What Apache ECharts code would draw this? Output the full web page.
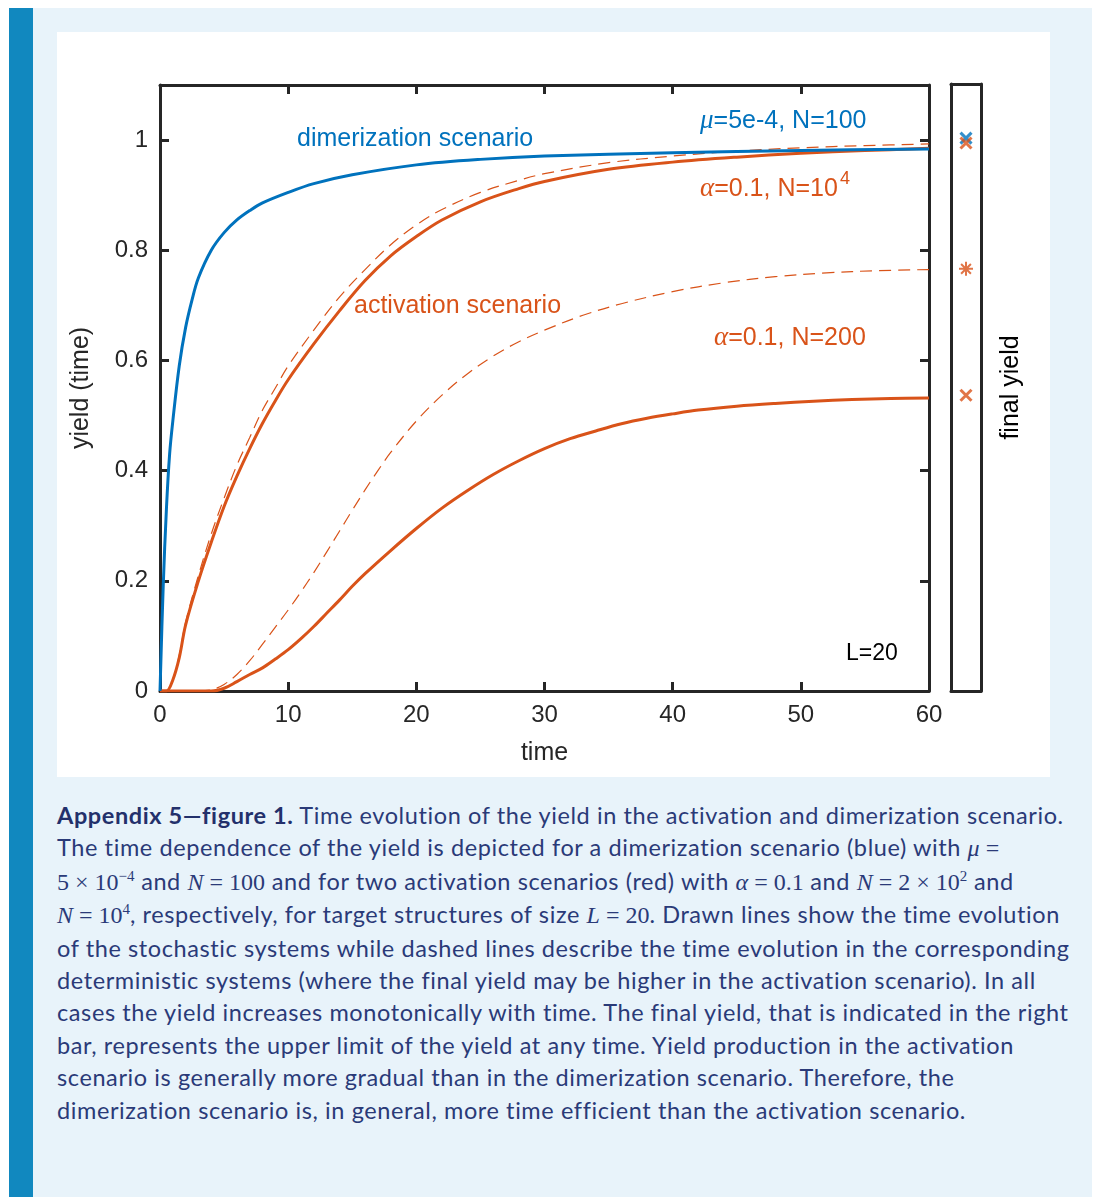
<!DOCTYPE html>
<html><head><meta charset="utf-8">
<script src="https://cdn.jsdelivr.net/npm/echarts@6/dist/echarts.min.js"></script>
<style>
html,body{margin:0;padding:0;background:#fff;width:1097px;height:1197px;overflow:hidden}
#panel{position:absolute;left:9px;top:8px;width:1083px;height:1189px;background:#e8f3fa}
#bar{position:absolute;left:9px;top:8px;width:24px;height:1189px;background:#1188bf}
#chart{position:absolute;left:57px;top:32px;width:993px;height:745px;background:#fff}
#cap{position:absolute;left:57px;top:799px;font-family:Lato,'Noto Sans',sans-serif;font-size:23.5px;letter-spacing:0.6px;line-height:32.4px;color:#2a3a78;white-space:nowrap}
#cap b{color:#23306b}
.m{font-family:'Liberation Serif',serif;font-size:24px;letter-spacing:0}
.i{font-style:italic}
sup{font-size:15px;line-height:0;vertical-align:9px}
</style></head><body>
<div id="panel"></div><div id="bar"></div>
<div id="chart"></div>
<div id="cap">
<b>Appendix 5—figure 1.</b> Time evolution of the yield in the activation and dimerization scenario.<br>
The time dependence of the yield is depicted for a dimerization scenario (blue) with <span class="m"><span class="i">μ</span> =</span><br>
<span class="m">5 × 10<sup>−4</sup></span> and <span class="m"><span class="i">N</span> = 100</span> and for two activation scenarios (red) with <span class="m"><span class="i">α</span> = 0.1</span> and <span class="m"><span class="i">N</span> = 2 × 10<sup>2</sup></span> and<br>
<span class="m"><span class="i">N</span> = 10<sup>4</sup></span>, respectively, for target structures of size <span class="m"><span class="i">L</span> = 20</span>. Drawn lines show the time evolution<br>
of the stochastic systems while dashed lines describe the time evolution in the corresponding<br>
deterministic systems (where the final yield may be higher in the activation scenario). In all<br>
cases the yield increases monotonically with time. The final yield, that is indicated in the right<br>
bar, represents the upper limit of the yield at any time. Yield production in the activation<br>
scenario is generally more gradual than in the dimerization scenario. Therefore, the<br>
dimerization scenario is, in general, more time efficient than the activation scenario.
</div>
<script>
// ---- data ----
const xTicks = [0, 10, 20, 30, 40, 50, 60];
const yTicks = [0, 0.2, 0.4, 0.6, 0.8, 1];

const timeBlue  = [0,0.25,0.5,0.75,1,1.5,2,2.5,3,4,5,6,7,8,10,12,15,20,25,30,40,50,60];
const yieldBlue = [0,0.19,0.33,0.43,0.49,0.59,0.66,0.71,0.75,0.80,0.832,0.855,0.872,0.886,0.905,0.921,0.937,0.955,0.965,0.971,0.977,0.981,0.984];

const timeAct1e4Stoch  = [0,0.5,1,1.5,2,3,4,5,6,7,8,9,10,12,14,16,18,20,22,25,28,30,35,40,45,50,55,60];
const yieldAct1e4Stoch = [0,0,0.02,0.06,0.12,0.20,0.27,0.335,0.39,0.44,0.486,0.527,0.565,0.63,0.69,0.745,0.79,0.825,0.855,0.888,0.912,0.925,0.947,0.96,0.969,0.976,0.981,0.985];
const timeAct1e4Det    = [0,0.5,1,1.5,2,3,4,5,6,7,8,9,10,12,14,16,18,20,22,25,28,30,35,40,45,50,55,60];
const yieldAct1e4Det   = [0,0,0.02,0.065,0.125,0.21,0.285,0.35,0.41,0.46,0.51,0.55,0.59,0.655,0.715,0.765,0.81,0.846,0.874,0.905,0.927,0.939,0.959,0.971,0.98,0.986,0.99,0.993];

const timeAct200Stoch  = [0,2,3,4,5,6,7,8,9,10,11,12,13,14,15,16,18,20,22,24,26,28,30,32,34,36,38,40,42,45,48,51,54,57,60];
const yieldAct200Stoch = [0,0,0,0,0.005,0.017,0.03,0.042,0.058,0.075,0.095,0.117,0.141,0.165,0.19,0.213,0.255,0.295,0.332,0.364,0.393,0.418,0.44,0.458,0.472,0.485,0.495,0.503,0.51,0.517,0.522,0.526,0.529,0.531,0.532];

const timeAct200Det  = [0,2,3,4,5,6,7,8,9,10,11,12,13,14,15,16,17,18,20,22,24,26,28,30,33,36,40,44,48,52,56,60];
const yieldAct200Det = [0,0,0,0.002,0.012,0.03,0.055,0.085,0.116,0.147,0.18,0.215,0.252,0.29,0.328,0.365,0.4,0.433,0.49,0.537,0.576,0.608,0.634,0.655,0.682,0.703,0.725,0.741,0.752,0.759,0.763,0.765];

// final yield bar markers
const finalBlueCross = [1.002];
const finalRedCross  = [0.993, 0.536];
const finalRedStar   = [0.765];

// ---- styles ----
const BLUE = '#0072BD', RED = '#D95319', AX = '#262626';
const SANS = '"Liberation Sans", Arial, sans-serif';
const pairs = (t, v) => t.map((x, i) => [x, v[i]]);
const CROSS = 'path://M0,0L10,10M10,0L0,10';
const STAR  = 'path://M5,0L5,10M0,5L10,5M1.5,1.5L8.5,8.5M8.5,1.5L1.5,8.5';

const axLine = {show:true, onZero:false, lineStyle:{color:AX, width:3}};
const tickIn = {show:true, inside:true, length:9, lineStyle:{color:AX, width:3}};
const lab = {fontSize:24, color:AX, fontFamily:SANS, margin:12};
const SM = 0.35;

const chart = echarts.init(document.getElementById('chart'), null, {renderer:'canvas'});
chart.setOption({
  animation:false,
  backgroundColor:'#fff',
  grid:[
    {left:103, top:53, width:769, height:606, outerBoundsMode:'none'},
    {left:894, top:52, width:30, height:607, outerBoundsMode:'none'}
  ],
  xAxis:[
    {gridIndex:0, type:'value', min:xTicks[0], max:xTicks[xTicks.length-1], interval:10, position:'bottom',
     axisLine:axLine, axisTick:tickIn, axisLabel:lab, splitLine:{show:false},
     name:'time', nameLocation:'middle', nameGap:50, nameTextStyle:{fontSize:25, color:AX, fontFamily:SANS}},
    {gridIndex:0, type:'value', min:0, max:60, interval:10, position:'top',
     axisLine:axLine, axisTick:tickIn, axisLabel:{show:false}, splitLine:{show:false}},
    {gridIndex:1, type:'value', min:0, max:1, position:'bottom', axisLine:axLine, axisTick:{show:false}, axisLabel:{show:false}, splitLine:{show:false}},
    {gridIndex:1, type:'value', min:0, max:1, position:'top', axisLine:axLine, axisTick:{show:false}, axisLabel:{show:false}, splitLine:{show:false}}
  ],
  yAxis:[
    {gridIndex:0, type:'value', min:yTicks[0], max:1.1, interval:0.2, position:'left',
     axisLine:axLine, axisTick:tickIn, axisLabel:Object.assign({showMaxLabel:false}, lab), splitLine:{show:false},
     name:'yield (time)', nameLocation:'middle', nameGap:66, nameRotate:90, nameTextStyle:{fontSize:25, color:AX, fontFamily:SANS}},
    {gridIndex:0, type:'value', min:0, max:1.1, interval:0.2, position:'right',
     axisLine:axLine, axisTick:tickIn, axisLabel:{show:false}, splitLine:{show:false}},
    {gridIndex:1, type:'value', min:0, max:1.1, position:'left', axisLine:axLine, axisTick:{show:false}, axisLabel:{show:false}, splitLine:{show:false}},
    {gridIndex:1, type:'value', min:0, max:1.1, position:'right', axisLine:axLine, axisTick:{show:false}, axisLabel:{show:false}, splitLine:{show:false},
     name:'final yield', nameLocation:'middle', nameGap:18, nameRotate:90, nameTextStyle:{fontSize:25, color:'#000', fontFamily:SANS}}
  ],
  series:[
    {type:'line', xAxisIndex:0, yAxisIndex:0, data:pairs(timeAct1e4Det, yieldAct1e4Det), showSymbol:false, smooth:SM,
     lineStyle:{color:RED, width:1.2, type:[12,7]}, z:2},
    {type:'line', xAxisIndex:0, yAxisIndex:0, data:pairs(timeAct200Det, yieldAct200Det), showSymbol:false, smooth:SM,
     lineStyle:{color:RED, width:1.2, type:[12,7]}, z:2},
    {type:'line', xAxisIndex:0, yAxisIndex:0, data:pairs(timeAct200Stoch, yieldAct200Stoch), showSymbol:false, smooth:SM,
     lineStyle:{color:RED, width:3}, z:3},
    {type:'line', xAxisIndex:0, yAxisIndex:0, data:pairs(timeAct1e4Stoch, yieldAct1e4Stoch), showSymbol:false, smooth:SM,
     lineStyle:{color:RED, width:3}, z:3},
    {type:'line', xAxisIndex:0, yAxisIndex:0, data:pairs(timeBlue, yieldBlue), showSymbol:false, smooth:SM,
     lineStyle:{color:BLUE, width:3}, z:4},
    {type:'scatter', xAxisIndex:2, yAxisIndex:2, data:finalBlueCross.map(v=>[0.5,v]), symbol:CROSS, symbolSize:11,
     itemStyle:{color:'transparent', borderColor:BLUE, borderWidth:3}, z:5},
    {type:'scatter', xAxisIndex:2, yAxisIndex:2, data:finalRedCross.map(v=>[0.5,v]), symbol:CROSS, symbolSize:11,
     itemStyle:{color:'transparent', borderColor:RED, borderWidth:3}, z:6},
    {type:'scatter', xAxisIndex:2, yAxisIndex:2, data:finalRedStar.map(v=>[0.5,v]), symbol:STAR, symbolSize:14,
     itemStyle:{color:'transparent', borderColor:RED, borderWidth:2}, z:6}
  ],
  graphic:[
    {type:'text', x:240, y:107, style:{text:'dimerization scenario', fill:BLUE, font:'25px '+SANS, verticalAlign:'middle', textVerticalAlign:'middle'}},
    {type:'text', x:643, y:89, style:{text:'{it|μ}=5e-4, N=100', fill:BLUE, font:'25px '+SANS, verticalAlign:'middle', textVerticalAlign:'middle',
      rich:{it:{fontFamily:'Liberation Serif', fontStyle:'italic', fontSize:27, fill:BLUE, color:BLUE}}}},
    {type:'text', x:643, y:157, style:{text:'{it|α}=0.1, N=10', fill:RED, font:'25px '+SANS, verticalAlign:'middle', textVerticalAlign:'middle',
      rich:{it:{fontFamily:'Liberation Serif', fontStyle:'italic', fontSize:27, fill:RED, color:RED}}}},
    {type:'text', x:783, y:147, style:{text:'4', fill:RED, font:'18px '+SANS, verticalAlign:'middle', textVerticalAlign:'middle'}},
    {type:'text', x:297, y:274, style:{text:'activation scenario', fill:RED, font:'25px '+SANS, verticalAlign:'middle', textVerticalAlign:'middle'}},
    {type:'text', x:657, y:306, style:{text:'{it|α}=0.1, N=200', fill:RED, font:'25px '+SANS, verticalAlign:'middle', textVerticalAlign:'middle',
      rich:{it:{fontFamily:'Liberation Serif', fontStyle:'italic', fontSize:27, fill:RED, color:RED}}}},
    {type:'text', x:789, y:622, style:{text:'L=20', fill:'#000', font:'23px '+SANS, verticalAlign:'middle', textVerticalAlign:'middle'}}
  ]
});
</script>
</body></html>
